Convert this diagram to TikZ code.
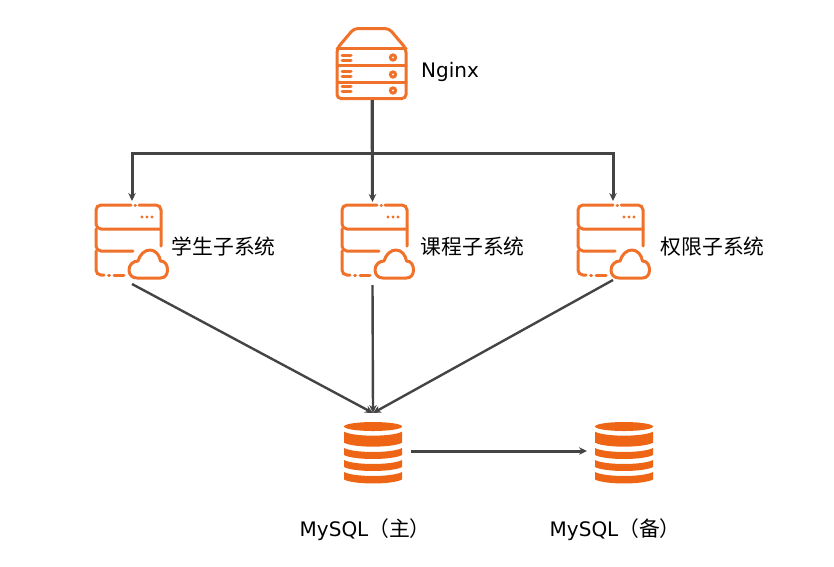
\documentclass[tikz,border=0pt]{standalone}
\usepackage{fontspec}
\usetikzlibrary{arrows.meta}
\setmainfont{DejaVu Sans}
\newfontfamily\cjkfont[Scale=1.04]{Noto Sans CJK SC}
\definecolor{iconorange}{HTML}{F0712A}
\definecolor{dborange}{HTML}{EE6515}
\definecolor{linegray}{HTML}{444444}
\tikzset{
  spot/.style={minimum width=#1,inner sep=0pt,outer sep=0pt},
  label text/.style={anchor=west,inner sep=0pt,font=\fontsize{20}{24}\selectfont,text=black},
  icon line/.style={draw=iconorange,line width=3pt,line cap=round},
  nginxbox/.pic={
    \draw[icon line,rounded corners=4pt] (0,20) -- (17,0) -- (52,0) -- (69,20) -- (69,70) -- (0,70) -- cycle;
    \draw[icon line] (0,20) -- (69,20) (0,37) -- (69,37) (0,54) -- (69,54);
    \draw[icon line] (5,27) -- (14,27) (5,32) -- (14,32) (5,43) -- (14,43) (5,48) -- (14,48) (5,58) -- (14,58) (5,63) -- (14,63);
    \foreach \y in {29,46,62} \draw[icon line] (56,\y) circle (2.6);
  },
  serverbox/.pic={
    \draw[icon line,rounded corners=5pt] (35,0) -- (0,0) -- (0,24) -- (65,24);
    \draw[icon line,rounded corners=5pt] (43,0) -- (65,0) -- (65,24) -- (65,41);
    \draw[icon line,rounded corners=5pt] (0,24) -- (0,46) -- (37,46);
    \draw[icon line,rounded corners=5pt] (0,46) -- (0,70) -- (8,70);
    \draw[icon line] (12.5,70) -- (13.5,70) (18,70) -- (28,70);
    \draw[icon line] (39,0) -- (39.5,0);
    \foreach \x in {46,51,56} \fill[iconorange] (\x,12) circle (1.6);
    \draw[icon line,line join=round] (41,73) .. controls (36,73) and (33,69.5) .. (33,65)
      .. controls (33,60) and (37,56) .. (42,56) .. controls (44,49) and (49,45) .. (54,45)
      .. controls (59.5,45) and (63.5,50) .. (64.5,56) .. controls (69,56) and (71.5,60) .. (71.5,65)
      .. controls (71.5,69.5) and (69,73) .. (64.5,73) -- cycle;
  },
  dbstack/.pic={
    \fill[dborange] (29,5.5) ellipse (29 and 4.5);
    \foreach \a/\b in {10.7/21.7,27/34,39/46,51/58.5}
      \fill[dborange] (0,\a) .. controls (10,\a+5.3) and (48,\a+5.3) .. (58,\a) -- (58,\b)
        .. controls (48,\b+5.3) and (10,\b+5.3) .. (0,\b) -- cycle;
  }
}
\begin{document}
\begin{tikzpicture}[x=1pt,y=-1pt,
              arrow/.style={-{Stealth[length=8pt,width=7.5pt]},draw=linegray,line width=3pt},
              slant/.style={line width=2.4pt}]
  \useasboundingbox (0,0) rectangle (834,566);

  \node[spot=70pt,minimum height=72pt] (nginx) at (372,64) {};
  \node[spot=74pt,minimum height=83pt] (student) at (132,242.5) {};
  \node[spot=74pt,minimum height=83pt] (course) at (372.5,243.5) {};
  \node[spot=74pt,minimum height=79pt] (auth) at (613,240.5) {};
  \node[spot=76pt,minimum height=76pt] (mysql) at (373,451) {};
  \node[spot=76pt,minimum height=76pt] (backup) at (625,451) {};

  \pic at (337,28.5) {nginxbox};
  \pic at (96,205) {serverbox};
  \pic at (342,205) {serverbox};
  \pic at (578,205) {serverbox};
  \pic at (344,421) {dbstack};
  \pic at (595,421) {dbstack};

  \node[label text] (nginxtext) at (421,71.5) {Nginx};
  \node[label text] (studenttext) at (171.5,246.5) {\cjkfont 学生子系统};
  \node[label text] (coursetext) at (420.5,246.5) {\cjkfont 课程子系统};
  \node[label text] (authtext) at (660.5,246.5) {\cjkfont 权限子系统};
  \node[label text] (mysqltext) at (299.5,529.5) {MySQL{\cjkfont （主）}};
  \node[label text] (backuptext) at (549.5,529.5) {MySQL{\cjkfont （备）}};

  \draw[arrow] (nginx.south) -- ++(0,53) -| (student.north);
  \draw[arrow] (nginx.south) -- ++(0,53) -| (auth.north);
  \draw[arrow] (nginx.south) -- (course.north);

  \path[every edge/.style={arrow,draw}]
  (student.south) edge[slant] (mysql.north)
  (course.south) edge[slant] (mysql.north)
  (auth.south) edge[slant] (mysql.north)
  (mysql.east) edge (backup.west);
\end{tikzpicture}
\end{document}
